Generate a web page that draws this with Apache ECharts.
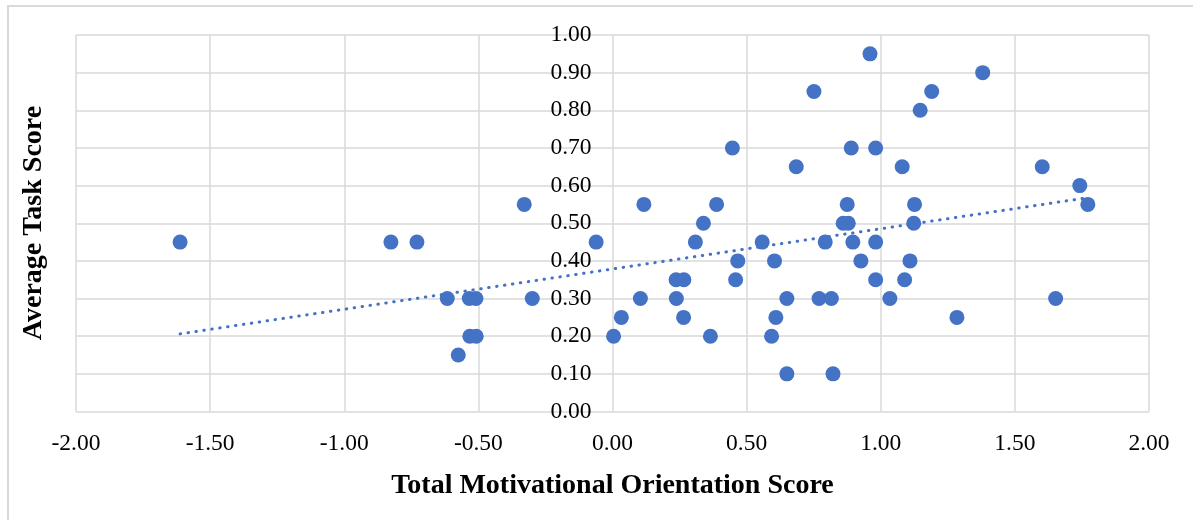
<!DOCTYPE html>
<html>
<head>
<meta charset="utf-8">
<script src="https://cdn.jsdelivr.net/npm/echarts@6/dist/echarts.min.js"></script>
<style>
  html, body { margin: 0; padding: 0; background: #fff; overflow: hidden; }
  #frame { position: absolute; left: 7px; top: 5px; width: 1250px; height: 600px; border: 2px solid #d9d9d9; }
  #chart { position: absolute; left: 0; top: 0; width: 1193px; height: 520px; }
</style>
</head>
<body>
<div id="frame"></div>
<div id="chart"></div>
<script>
// motivational orientation score (x) / average task score (y)
const motivation = [
  -1.612, -0.826, -0.729, -0.616, -0.575, -0.534, -0.509, -0.532, -0.508, -0.329,
  -0.299, -0.061, 0.004, 0.033, 0.104, 0.117, 0.237, 0.266, 0.238, 0.265,
  0.309, 0.339, 0.388, 0.365, 0.447, 0.467, 0.459, 0.558, 0.604, 0.650,
  0.609, 0.593, 0.650, 0.685, 0.751, 0.770, 0.816, 0.793, 0.822, 0.960,
  1.380, 1.190, 1.147, 0.890, 0.981, 1.080, 1.602, 1.742, 1.772, 0.875,
  1.126, 0.860, 0.879, 1.123, 0.896, 0.981, 0.926, 1.109, 0.981, 1.089,
  1.034, 1.284, 1.652
]
const taskScore = [
  0.45, 0.45, 0.45, 0.30, 0.15, 0.30, 0.30, 0.20, 0.20, 0.55,
  0.30, 0.45, 0.20, 0.25, 0.30, 0.55, 0.35, 0.35, 0.30, 0.25,
  0.45, 0.50, 0.55, 0.20, 0.70, 0.40, 0.35, 0.45, 0.40, 0.30,
  0.25, 0.20, 0.10, 0.65, 0.85, 0.30, 0.30, 0.45, 0.10, 0.95,
  0.90, 0.85, 0.80, 0.70, 0.70, 0.65, 0.65, 0.60, 0.55, 0.55,
  0.55, 0.50, 0.50, 0.50, 0.45, 0.45, 0.40, 0.40, 0.35, 0.35,
  0.30, 0.25, 0.30
]
const xTicks = [-2, -1.5, -1, -0.5, 0, 0.5, 1, 1.5, 2]
const yTicks = [0, 0.1, 0.2, 0.3, 0.4, 0.5, 0.6, 0.7, 0.8, 0.9, 1]

const points = motivation.map((x, i) => [x, taskScore[i]])

// linear trend line (least squares)
const n = points.length
const mx = motivation.reduce((a, b) => a + b, 0) / n
const my = taskScore.reduce((a, b) => a + b, 0) / n
let sxy = 0, sxx = 0
points.forEach(([x, y]) => { sxy += (x - mx) * (y - my); sxx += (x - mx) * (x - mx) })
const slope = sxy / sxx
const intercept = my - slope * mx
const xMin = Math.min(...motivation)
const xMax = Math.max(...motivation)
const trend = [[xMin, intercept + slope * xMin], [xMax, intercept + slope * xMax]]

const blue = '#4472c4'
const grey = '#d9d9d9'
const font = '"Liberation Serif", "Times New Roman", serif'
const gridLeft = 76

const chart = echarts.init(document.getElementById('chart'), null, { renderer: 'canvas' })
chart.setOption({
  animation: false,
  grid: { left: gridLeft, right: 44, top: 35, bottom: 108.5 },
  xAxis: {
    type: 'value',
    min: xTicks[0],
    max: xTicks[xTicks.length - 1],
    interval: 0.5,
    axisLine: { show: false },
    axisTick: { show: false },
    axisLabel: {
      margin: 20,
      fontFamily: font,
      fontSize: 23.5,
      color: '#000',
      formatter: v => v.toFixed(2)
    },
    splitLine: { lineStyle: { color: grey, width: 1.5 } },
    name: 'Total Motivational Orientation Score',
    nameLocation: 'middle',
    nameGap: 60,
    nameTextStyle: { fontFamily: font, fontSize: 28, fontWeight: 'bold', color: '#000' }
  },
  yAxis: {
    type: 'value',
    position: 'left',
    min: yTicks[0],
    max: yTicks[yTicks.length - 1],
    interval: 0.1,
    axisLine: { show: false, onZero: false },
    axisTick: { show: false },
    axisLabel: {
      margin: 21,
      fontFamily: font,
      fontSize: 23.5,
      color: '#000',
      formatter: v => v.toFixed(2)
    },
    splitLine: { lineStyle: { color: grey, width: 1.5 } }
  },
  graphic: [{
    type: 'text',
    x: 34,
    y: 223,
    rotation: Math.PI / 2,
    style: {
      text: 'Average Task Score',
      fontFamily: font,
      fontSize: 28,
      fontWeight: 'bold',
      fill: '#000',
      align: 'center',
      verticalAlign: 'middle'
    }
  }],
  series: [
    {
      type: 'scatter',
      data: points,
      symbolSize: 15,
      itemStyle: { color: blue, opacity: 1 },
      z: 3
    },
    {
      type: 'line',
      data: trend,
      symbol: 'none',
      lineStyle: { color: blue, width: 3, type: [0.5, 7.5], cap: 'round' },
      z: 2
    }
  ]
})

// Excel-style: value axis crosses at x = 0, so move the y axis there
const zeroX = chart.convertToPixel({ xAxisIndex: 0 }, 0)
chart.setOption({ yAxis: { offset: -(zeroX - gridLeft) } })
</script>
</body>
</html>
